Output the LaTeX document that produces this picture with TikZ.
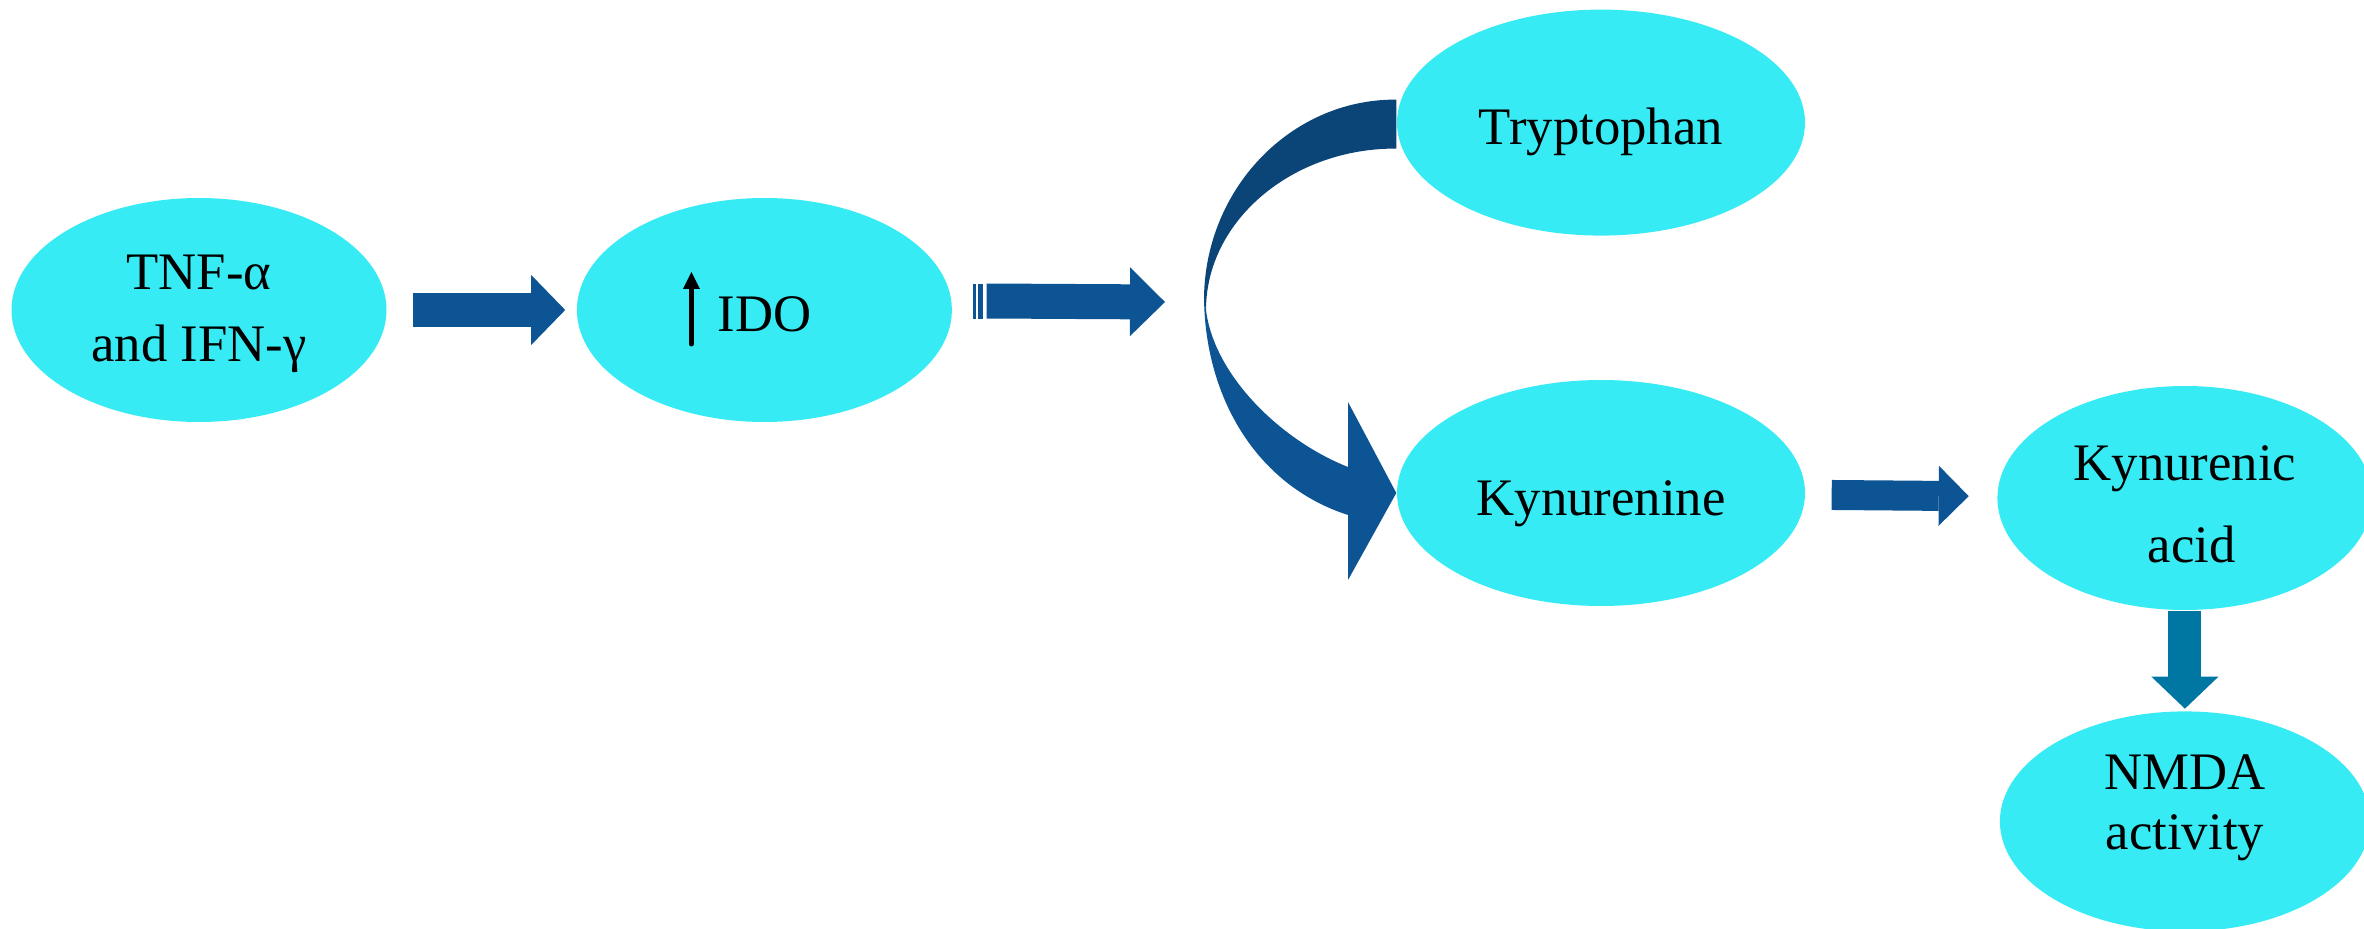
\documentclass[tikz,border=0pt]{standalone}
\usepackage{fontspec}
\setmainfont{Liberation Serif}
\usepackage{tikz}
\usetikzlibrary{positioning,arrows.meta,shapes.geometric}

\definecolor{cellcyan}{RGB}{55,235,244}
\definecolor{arrowblue}{RGB}{13,84,148}
\definecolor{folddark}{RGB}{11,68,119}
\definecolor{tealblue}{RGB}{0,119,163}

\tikzset{
  cell/.style={ellipse, fill=cellcyan, inner sep=0pt, align=center,
    minimum width=37.5mm, minimum height=22.4mm},
  widecell/.style={cell, minimum width=40.8mm, minimum height=22.6mm},
  oneline/.style={text height=4.4mm, text depth=0pt},
  blockarrow/.style={draw=arrowblue, line width=3.4mm,
    -{Triangle[length=3.4mm, width=7mm, line width=0pt]}},
}

\begin{document}
\begin{tikzpicture}[x=0.1mm, y=-0.1mm, font=\fontsize{15}{19.9}\selectfont]
    \useasboundingbox (0,0) rectangle (2364,929);

    % pathway cells
    \node[cell] (tnf) at (199,310) {\rule{0pt}{4.3mm}TNF-α\\[0.6pt]and IFN-γ};
    \node[cell, oneline, right=18.9mm of tnf] (ido) {IDO};
    \node[widecell, oneline] (kyn) at (1601,493) {Kynurenine};
    \node[widecell, oneline, above=14.3mm of kyn] (tryp) {Tryptophan};
    \node[cell, right=19.1mm of kyn, yshift=-0.5mm] (kyna) {\rule{0pt}{4.7mm}Kynurenic\\[3.4pt]\ acid};
    \node[cell, minimum width=37mm, minimum height=22mm, below=10mm of kyna] (nmda) {NMDA\\[-2.8pt]activity\rule[-3.9mm]{0pt}{0pt}};

    % rise of IDO
    \coordinate (upfoot) at ([xshift=-7.3mm, yshift=-3.4mm]ido.center);
    \coordinate (uphead) at ([xshift=-7.3mm, yshift=3.8mm]ido.center);
    \draw[line width=0.5mm, line cap=round, -{Triangle[length=1.7mm, width=1.7mm, line width=0pt]}] (upfoot) -- (uphead);

    \draw[blockarrow, shorten <=2.6mm, shorten >=1.1mm] (tnf) -- (ido);

    % striped arrow towards the fold
    \coordinate (idotail) at ([xshift=3.4mm, yshift=0.9mm]ido.east);
    \coordinate (idoend) at (1165,302);
    \fill[arrowblue] (973,284.5) rectangle (976,319.5);
    \fill[arrowblue] (978,284.5) rectangle (983,319.5);
    \draw[blockarrow, line width=3.5mm, -{Triangle[length=3.5mm, width=6.9mm, line width=0pt]}] (idotail) -- (idoend);

    % folded arrow tryptophan -> kynurenine
    \fill[arrowblue] (1204,295) .. controls (1204,395) and (1255,485) .. (1348,515)
      -- (1348,580) -- (kyn.west) -- (1348,402) -- (1348,467)
      .. controls (1280,440) and (1214,375) .. (1206,310) -- cycle;
    \fill[folddark] ([yshift=2.3mm]tryp.west) .. controls (1290,99) and (1204,190) .. (1204,300)
      -- (1206,310) .. controls (1206,221) and (1292,148) .. ([yshift=-2.6mm]tryp.west) -- cycle;

    \draw[blockarrow, line width=3mm, -{Triangle[length=3mm, width=6mm, line width=0pt]},
      shorten <=2.6mm, shorten >=2.8mm] (kyn) -- (kyna);
    \draw[blockarrow, draw=tealblue, line width=3.3mm, -{Triangle[length=3.2mm, width=6.7mm, line width=0pt]},
      shorten >=0.2mm] (kyna) -- (nmda);
\end{tikzpicture}
\end{document}
